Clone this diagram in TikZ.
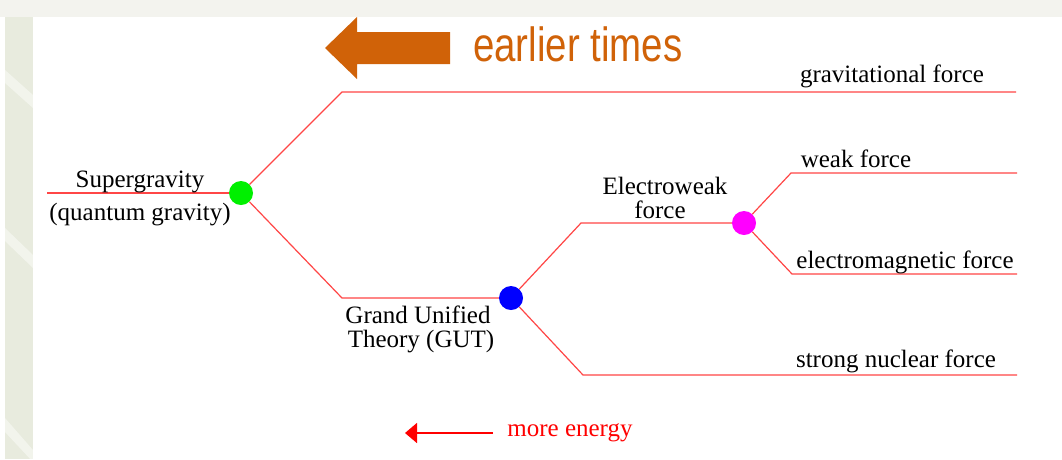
\documentclass[tikz,border=0pt]{standalone}
\usepackage{fontspec}
\setmainfont{Liberation Serif}
\newfontfamily\arialfont{Liberation Sans}
\usetikzlibrary{arrows.meta}
\definecolor{linered}{RGB}{255,70,70}
\definecolor{arroworange}{RGB}{208,98,8}
\definecolor{topgrey}{RGB}{243,243,238}
\definecolor{sidegreen}{RGB}{232,235,222}
\definecolor{dotgreen}{RGB}{0,240,0}
\definecolor{dotblue}{RGB}{0,0,255}
\definecolor{dotmagenta}{RGB}{255,0,255}
\definecolor{textred}{RGB}{255,0,0}
\begin{document}
\begin{tikzpicture}[x=1pt,y=-1pt,
  branch/.style={draw=linered, line width=1.2pt},
  dot/.style={circle, inner sep=0pt, minimum size=24pt},
  lbl/.style={font=\fontsize{25}{25}\selectfont, inner sep=0pt, text=black, anchor=base}]
\useasboundingbox (0,0) rectangle (1062,459);
% background
\fill[white] (0,0) rectangle (1062,459);
\fill[topgrey] (0,0) rectangle (1062,17);
\fill[sidegreen] (5,17) rectangle (33,459);
\begin{scope}
  \clip (5,17) rectangle (33,459);
  \fill[white, opacity=0.45] (5,70) -- (33,95) -- (33,108) -- (5,83) -- cycle;
  \fill[white, opacity=0.45] (5,228) -- (33,255) -- (33,268) -- (5,241) -- cycle;
  \fill[white, opacity=0.45] (5,418) -- (33,450) -- (33,462) -- (5,432) -- cycle;
\end{scope}
% orange arrow
\fill[arroworange] (325,48) -- (357,17) -- (357,32) -- (450,32) -- (450,64) -- (357,64) -- (357,79) -- cycle;
\node[anchor=base west, inner sep=0pt, text=arroworange] (et) at (473,61)
  {\scalebox{0.8}[1]{\fontsize{48}{48}\arialfont earlier times}};
% nodes and coordinates
\coordinate (sgL) at (47,193);
\node[dot, fill=dotgreen] (G) at (241,193) {};
\coordinate (g1) at (342,92);
\coordinate (g2) at (1016,92);
\coordinate (u1) at (342,298);
\node[dot, fill=dotblue] (B) at (511,298) {};
\coordinate (e1) at (581,223);
\node[dot, fill=dotmagenta] (P) at (744,223) {};
\coordinate (w1) at (791,173);
\coordinate (w2) at (1017,173);
\coordinate (m1) at (792,274);
\coordinate (m2) at (1017,274);
\coordinate (s1) at (583,375);
\coordinate (s2) at (1017,375);
% branches
\draw[branch] (sgL) -- (G);
\draw[branch] (G) -- (g1) -- (g2);
\draw[branch] (G) -- (u1) -- (B);
\draw[branch] (B) -- (e1) -- (P);
\draw[branch] (P) -- (w1) -- (w2);
\draw[branch] (P) -- (m1) -- (m2);
\draw[branch] (B) -- (s1) -- (s2);
% labels
\node[lbl] (tgrav) at (892,82) {gravitational force};
\node[lbl] (tsg) at (140,187) {Supergravity};
\node[lbl] (tqg) at (140,220) {(quantum gravity)};
\node[lbl] (tew) at (665,194) {Electroweak};
\node[lbl] (tewf) at (660,218) {force};
\node[lbl] (tweak) at (856,167) {weak force};
\node[lbl] (tem) at (905,268) {electromagnetic force};
\node[lbl] (tgu) at (418,323) {Grand Unified};
\node[lbl] (tgut) at (421,347) {Theory (GUT)};
\node[lbl] (tsn) at (896,367) {strong nuclear force};
\node[lbl, text=textred] (tme) at (570,436) {more energy};
\coordinate (meR) at (493,433);
\coordinate (meL) at (405,433);
\draw[textred, line width=1.5pt, -{Triangle[length=12pt,width=20pt]}] (meR) -- (meL);
\end{tikzpicture}
\end{document}
